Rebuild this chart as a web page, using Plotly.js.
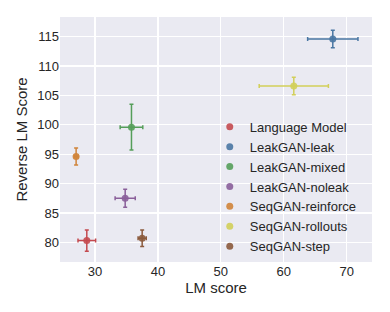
<!DOCTYPE html>
<html>
<head>
<meta charset="utf-8">
<script src="https://cdn.plot.ly/plotly-3.0.1.min.js"></script>
<style>html,body{margin:0;padding:0;background:#fff;}#chart{width:390px;height:312px;}</style>
</head>
<body>
<div id="chart"></div>
<script>
const models = ["Language Model", "LeakGAN-leak", "LeakGAN-mixed", "LeakGAN-noleak", "SeqGAN-reinforce", "SeqGAN-rollouts", "SeqGAN-step"];
const lmScore = [28.7, 67.8, 35.8, 34.8, 27.0, 61.6, 37.5];
const lmErr = [1.4, 4.0, 1.8, 1.6, 0.3, 5.5, 0.65];
const revScore = [80.3, 114.6, 99.6, 87.5, 94.6, 106.6, 80.7];
const revErr = [1.8, 1.5, 3.9, 1.55, 1.45, 1.5, 1.4];
const xTicks = [30, 40, 50, 60, 70];
const yTicks = [80, 85, 90, 95, 100, 105, 110, 115];

const colors = ["#c44a4f", "#4a77a3", "#559e5a", "#8a5f9a", "#d0843a", "#d2cf5a", "#8b5a3c"];

const traces = models.map((m, i) => ({
  type: "scatter",
  mode: "markers",
  name: m,
  x: [lmScore[i]],
  y: [revScore[i]],
  marker: {color: colors[i], size: 7, opacity: 0.9},
  error_x: {type: "data", array: [lmErr[i]], color: colors[i], thickness: 1.5, width: 2},
  error_y: {type: "data", array: [revErr[i]], color: colors[i], thickness: 1.5, width: 2}
}));

const layout = {
  width: 390, height: 312,
  margin: {l: 60, r: 18, t: 17, b: 50},
  paper_bgcolor: "#ffffff",
  plot_bgcolor: "#eaeaf2",
  font: {family: "Liberation Sans, Arial, sans-serif", color: "#262626", size: 13},
  showlegend: true,
  legend: {
    x: 0.48, y: 0.613, xanchor: "left", yanchor: "top",
    bgcolor: "rgba(0,0,0,0)", font: {size: 13, color: "#262626"}
  },
  xaxis: {
    range: [24.44, 74.03],
    tickvals: xTicks,
    ticktext: xTicks.map(String),
    showgrid: true, gridcolor: "#ffffff", gridwidth: 1.3,
    zeroline: false, showline: false, ticks: "",
    tickfont: {size: 13},
    title: {text: "LM score", font: {size: 15}, standoff: 4}
  },
  yaxis: {
    range: [76.65, 118.35],
    tickvals: yTicks,
    ticktext: yTicks.map(String),
    showgrid: true, gridcolor: "#ffffff", gridwidth: 1.3,
    zeroline: false, showline: false, ticks: "",
    tickfont: {size: 13},
    title: {text: "Reverse LM Score", font: {size: 15}, standoff: 6}
  }
};

Plotly.newPlot("chart", traces, layout, {displayModeBar: false, staticPlot: true});
</script>
</body>
</html>
